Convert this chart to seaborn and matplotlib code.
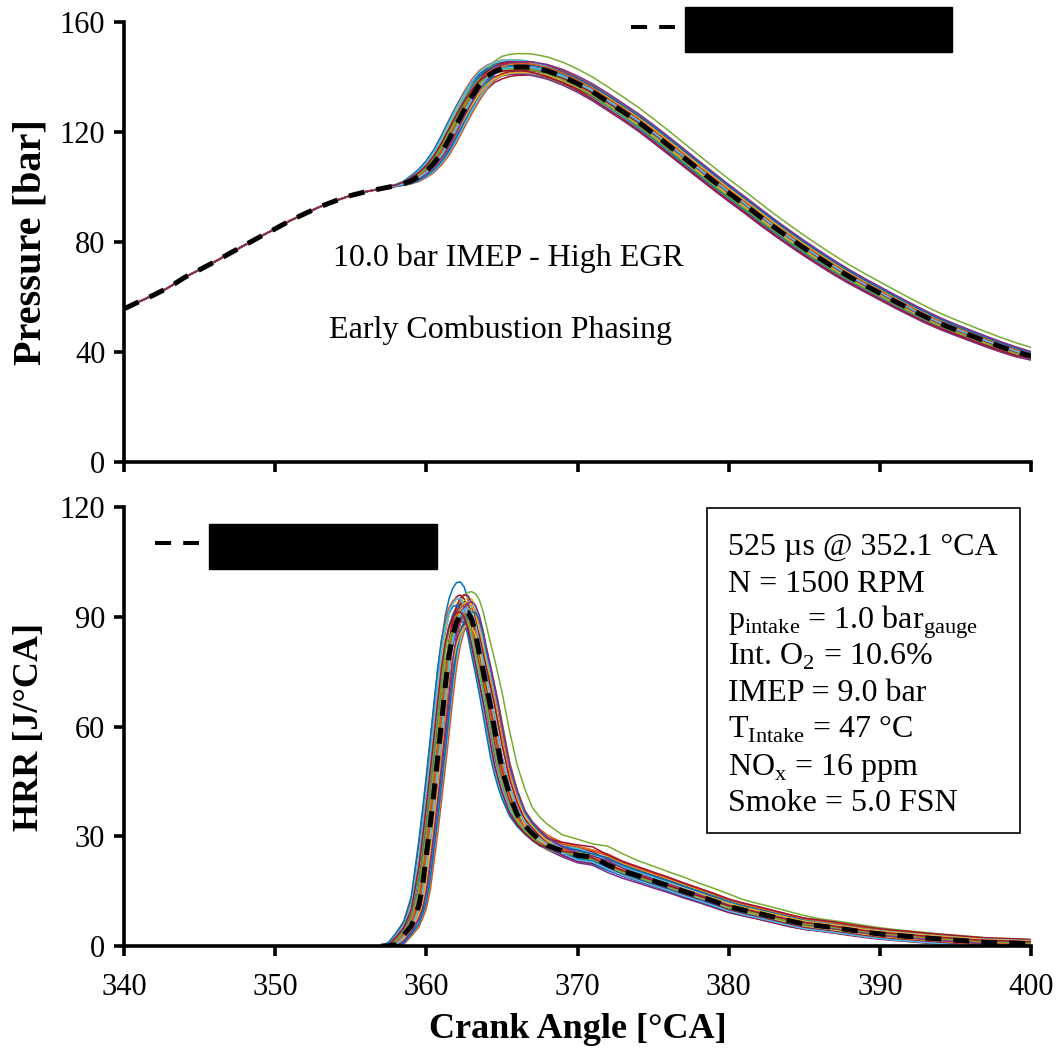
import numpy as np
import pandas as pd
import matplotlib
matplotlib.use("Agg")
import matplotlib.pyplot as plt
import seaborn as sns
from matplotlib.lines import Line2D
from matplotlib.patches import Rectangle

# ---------------- data ----------------
ca_p = [340, 341, 342, 343, 344, 345, 346, 347, 348, 349, 350, 351, 352, 353,
        354, 355, 356, 357, 358, 358.5, 359, 359.5, 360, 360.5, 361, 361.5,
        362, 362.5, 363, 363.5, 364, 364.5, 365, 365.5, 366, 366.5, 367, 368,
        369, 370, 371, 372, 373, 374, 375, 376, 377, 378, 379, 380, 381, 382,
        383, 384, 385, 386, 387, 388, 389, 390, 391, 392, 393, 394, 395, 396,
        397, 398, 399, 400]
p_mean = [55.7, 58.3, 60.8, 63.6, 67.1, 69.9, 72.8, 75.9, 78.9, 81.9, 84.8,
          87.8, 90.4, 92.9, 95.0, 96.9, 98.3, 99.4, 100.5, 101.2, 102.2, 103.8,
          105.8, 108.7, 112.4, 117.3, 122.8, 128.0, 132.8, 137.0, 140.2, 142.0,
          143.0, 143.5, 143.6, 143.6, 143.4, 142.2, 140.2, 137.6, 134.6, 131.0,
          127.4, 123.7, 119.5, 115.2, 110.8, 106.4, 102.1, 97.8, 93.8, 89.5,
          85.4, 81.5, 77.7, 74.1, 70.6, 67.3, 64.3, 61.4, 58.4, 55.6, 52.8,
          50.3, 48.1, 46.0, 43.9, 41.9, 40.1, 38.5]

ca_h = [357.0, 357.5, 358.0, 358.5, 359.0, 359.5, 359.75, 360.0, 360.25,
        360.5, 360.75, 361.0, 361.25, 361.5, 361.75, 362.0, 362.25, 362.5,
        362.75, 363.0, 363.25, 363.5, 363.75, 364.0, 364.25, 364.5, 364.75,
        365.0, 365.5, 366.0, 366.5, 367.0, 367.5, 368.0, 369, 370, 371, 372,
        373, 374, 375, 376, 377, 378, 379, 380, 381, 382, 383, 384, 385, 386,
        387, 388, 389, 390, 391, 392, 393, 394, 395, 396, 397, 398, 399, 400]
hrr_mean = [0.0, 0.0, 0.5, 3.0, 5.5, 11.0, 16.5, 25.0, 33.0,
            42.0, 51.5, 61.0, 71.0, 79.5, 85.0, 88.5, 90.6, 91.5,
            91.2, 89.3, 85.5, 80.0, 75.5, 70.5, 65.5, 59.5, 54.0,
            48.5, 41.5, 36.0, 33.0, 30.8, 29.0, 27.5, 26.0, 24.8, 24.3, 22.2,
            20.5, 19.2, 17.8, 16.5, 15.0, 13.7, 12.3, 10.8, 9.8, 8.9, 7.9, 6.9,
            6.0, 5.5, 5.0, 4.4, 3.8, 3.3, 2.9, 2.6, 2.2, 1.9, 1.6, 1.3, 1.0,
            0.9, 0.8, 0.6]

# individual cycles: phasing shift [deg], HRR scale, HRR decay widening,
# HRR tail offset [J/deg], pressure offset at peak [bar]
cycle_shift = [-0.40, 0.20, 0.50, -0.05, 0.25, 0.05, -0.35,
               0.15, -0.55, 0.40, 0.00, -0.20, -0.45, 0.35,
               -0.30, 0.55, 0.25, 0.10, -0.15, 0.40, -0.05,
               0.05, 0.35, -0.40, 0.20, -0.35, 0.45, 0.00,
               -0.60, -0.10, 0.15, -0.25, 0.05, -0.45, 0.30,
               0.45, 0.00, 0.20, 0.35, -0.20, 0.10, -0.40]
cycle_scale = [1.09, 1.02, 1.00, 0.98, 1.06, 1.03, 1.05,
               0.95, 1.04, 0.99, 1.01, 1.03, 1.00, 0.97,
               1.02, 0.98, 1.04, 1.00, 0.96, 1.02, 1.03,
               0.99, 1.01, 1.04, 0.97, 1.00, 0.98, 1.05,
               1.02, 0.99, 1.03, 0.97, 1.01, 1.04, 0.98,
               1.00, 1.02, 0.96, 1.03, 0.99, 1.01, 1.00]
cycle_widen = [1.00, 1.15, 1.04, 0.98, 1.35, 1.10, 0.97,
               1.02, 0.96, 1.05, 1.00, 1.03, 0.97, 1.06,
               0.98, 1.04, 1.02, 1.00, 0.99, 1.03, 0.96,
               1.01, 1.05, 0.98, 1.02, 0.97, 1.06, 1.00,
               0.96, 1.02, 1.04, 0.99, 1.01, 0.97, 1.03,
               1.05, 1.00, 1.02, 1.06, 0.98, 1.01, 0.97]
cycle_tail = [-0.8, 1.2, 0.4, -1.5, 1.5, 0.9, -1.8,
              0.3, -0.6, 1.0, -1.2, 0.6, -0.3, 1.4,
              -1.0, 0.2, 0.8, -1.6, 0.5, -0.4, 1.1,
              -0.9, 1.3, 0.0, -1.3, 0.7, -0.2, 1.6,
              -0.7, 0.4, -1.1, 0.9, -0.5, 1.2, -1.4,
              0.6, -0.1, 1.0, -0.8, 0.3, -1.7, 0.8]
cycle_dp = [2.0, 0.7, -1.3, 0.0, 5.0, -2.6, 1.3,
            -2.0, 2.6, -0.7, 0.7, 1.3, 0.0, -3.0,
            1.3, -1.3, 2.0, 0.0, -2.6, 0.7, 2.0,
            -0.7, 1.3, 2.6, -2.0, 0.0, -1.3, 2.0,
            0.7, -0.7, 1.3, -2.6, 0.0, 2.6, -1.3,
            0.7, 1.3, -2.0, 2.0, -0.7, 0.0, -1.3]
matlab_colors = ["#0072BD", "#D95319", "#EDB120", "#7E2F8E",
                 "#77AC30", "#4DBEEE", "#A2142F"]

box_lines = ["525 µs @ 352.1 °CA",
             "N = 1500 RPM",
             r"p$_{\mathregular{intake}}$ = 1.0 bar$_{\mathregular{gauge}}$",
             r"Int. O$_{\mathregular{2}}$ = 10.6%",
             "IMEP = 9.0 bar",
             r"T$_{\mathregular{Intake}}$ = 47 °C",
             r"NO$_{\mathregular{x}}$ = 16 ppm",
             "Smoke = 5.0 FSN"]

# ---------------- build long-form tables ----------------
cap = np.array(ca_p, dtype=float)
pm = np.array(p_mean)
cah = np.array(ca_h, dtype=float)
hm = np.array(hrr_mean)
pivot = 362.4
rows_p, rows_h = [], []
for i in range(len(cycle_shift)):
    name = f"c{i:02d}"
    w = np.clip((cap - 357.0) / 2.0, 0, 1)
    p = np.interp(cap - cycle_shift[i] * w, cap, pm)
    wdp = np.clip((cap - 359.0) / 6.0, 0, 1) * np.interp(cap, [365, 400], [1.0, 0.55])
    p = p + cycle_dp[i] * wdp
    rows_p += [(name, a, v) for a, v in zip(cap, p)]
    d = np.clip(cah - pivot, 0, None)
    k = 1.0 - 1.0 / cycle_widen[i]
    xs = cah - k * d * np.exp(-d / 9.0) - cycle_shift[i]
    h = np.interp(xs, cah, hm, left=0.0) * cycle_scale[i]
    wt = np.clip((cah - 367.0) / 3.0, 0, 1) * np.interp(cah, [370, 400], [1.0, 0.7])
    h = h + cycle_tail[i] * wt
    rows_h += [(name, a, v) for a, v in zip(cah, h)]
df_p = pd.DataFrame(rows_p, columns=["cycle", "ca", "p"])
df_h = pd.DataFrame(rows_h, columns=["cycle", "ca", "hrr"])
palette = [matlab_colors[i % 7] for i in range(len(cycle_shift))]

# ---------------- style ----------------
sns.set_theme(style="ticks")
plt.rcParams["font.family"] = ["Liberation Serif", "DejaVu Serif"]
plt.rcParams["mathtext.fontset"] = "custom"
plt.rcParams["mathtext.rm"] = "Liberation Serif"
plt.rcParams["axes.linewidth"] = 2.6
plt.rcParams["axes.edgecolor"] = "black"
for key in ["text.color", "axes.labelcolor", "xtick.color", "ytick.color"]:
    plt.rcParams[key] = "black"

fig = plt.figure(figsize=(10.62, 10.53), dpi=100)
ax1 = fig.add_axes([0.1168, 0.5613, 0.854, 0.4178])
ax2 = fig.add_axes([0.1168, 0.1016, 0.854, 0.4169])

dash = (0, (3.2, 2.4))
sns.lineplot(data=df_p, x="ca", y="p", hue="cycle", palette=palette,
             estimator=None, legend=False, lw=1.1, ax=ax1, sort=False)
sns.lineplot(x=cap, y=pm, color="black", lw=3.6, linestyle=dash, ax=ax1,
             estimator=None, sort=False)
sns.lineplot(data=df_h, x="ca", y="hrr", hue="cycle", palette=palette,
             estimator=None, legend=False, lw=1.1, ax=ax2, sort=False)
sns.lineplot(x=cah, y=hm, color="black", lw=3.6, linestyle=dash, ax=ax2,
             estimator=None, sort=False)

for ax in (ax1, ax2):
    ax.set_xlim(340, 400)
    ax.set_xticks([340, 350, 360, 370, 380, 390, 400])
    sns.despine(ax=ax)
    ax.tick_params(direction="out", length=7.5, width=2.6, labelsize=22,
                   colors="black")
    ax.tick_params(axis="x", pad=12)
    ax.tick_params(axis="y", pad=6)

ax1.set_ylim(0, 160)
ax1.set_yticks([0, 40, 80, 120, 160])
ax1.set_xticklabels([])
ax1.set_xlabel("")
ax1.set_ylabel("Pressure [bar]", fontsize=29, fontweight="bold", labelpad=7)
ax2.set_ylim(0, 120)
ax2.set_yticks([0, 30, 60, 90, 120])
ax2.set_xlabel("Crank Angle [°CA]", fontsize=26, fontweight="bold", labelpad=8)
ax2.set_ylabel("HRR [J/°CA]", fontsize=26, fontweight="bold", labelpad=10)

ax1.text(365.4, 74.2, "10.0 bar IMEP - High EGR", fontsize=23,
         ha="center", va="center")
ax1.text(364.9, 48.0, "Early Combustion Phasing", fontsize=23,
         ha="center", va="center")

# text box
ax2.add_patch(Rectangle((0.643, 0.257), 0.345, 0.741, transform=ax2.transAxes,
                        facecolor="white", edgecolor="black", lw=1.2,
                        zorder=5, clip_on=False))
for j, line in enumerate(box_lines):
    ybase = 555.0 + 36.6 * j
    ax2.text(0.666, (946.0 - ybase) / 439.0, line, fontsize=23,
             transform=ax2.transAxes, ha="left", va="baseline", zorder=6)

# legends (labels redacted with black boxes as in the reference)
def add_legend(ax, label, xpix, ypix):
    h = Line2D([], [], color="black", lw=2.9, linestyle=(0, (4, 3)))
    leg = ax.legend([h], [label], loc="center left",
                    bbox_to_anchor=(xpix / 1062.0, 1 - ypix / 1053.0),
                    bbox_transform=fig.transFigure, frameon=False,
                    fontsize=21, handlelength=1.5, handletextpad=0.68,
                    borderpad=0, borderaxespad=0)
    for t in leg.get_texts():
        t.set_color("black")
        t.set_bbox(dict(facecolor="black", edgecolor="black", pad=7))
    return leg

add_legend(ax1, "Mean Cycle Pressure", 631, 29.5)
add_legend(ax2, "Mean Cycle HRR", 155, 546)

fig.savefig("out.png", dpi=100)
